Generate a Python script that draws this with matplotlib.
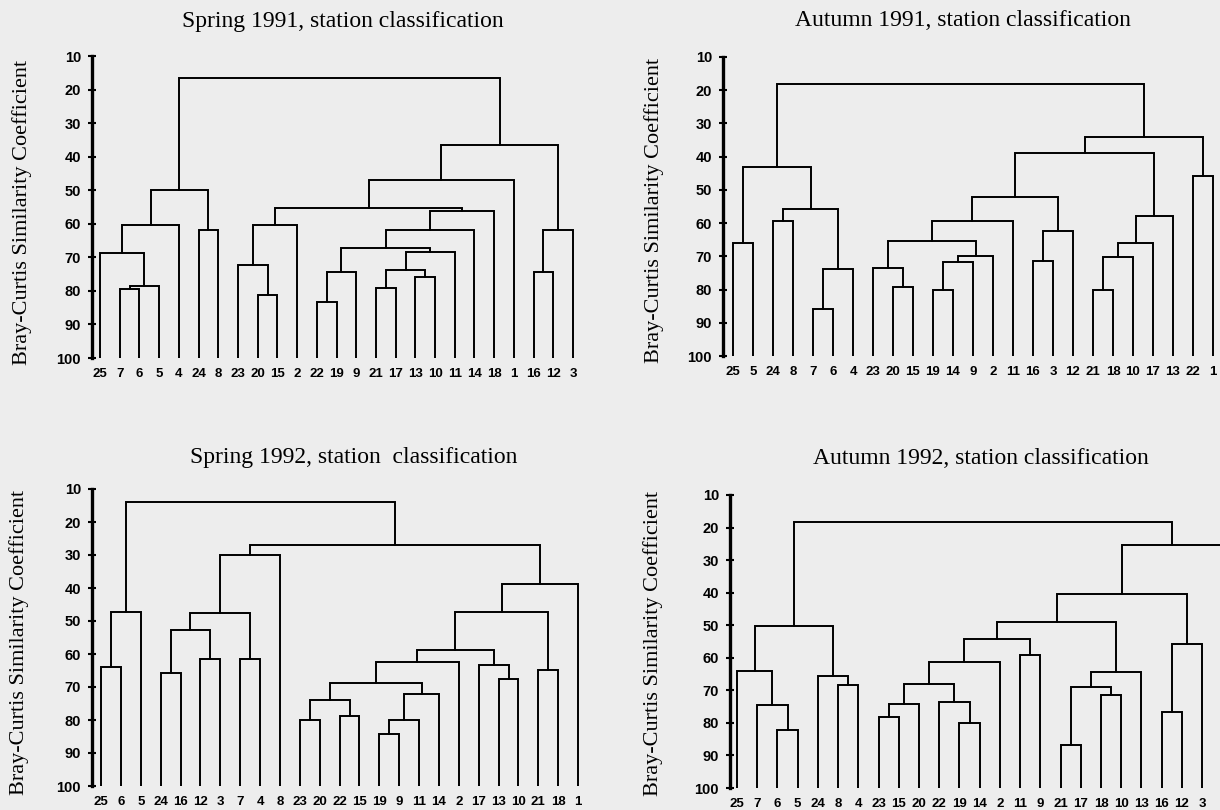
import matplotlib
matplotlib.use('Agg')
import matplotlib.pyplot as plt
from matplotlib import font_manager

W, H = 1220, 810

names = {f.name for f in font_manager.fontManager.ttflist}
narrow = 'Liberation Sans Narrow' if 'Liberation Sans Narrow' in names else 'Liberation Sans'
serif = 'Liberation Serif'

# leaf order (station numbers) and merges: (left, right, similarity)
# a merge is referred to later as 'm<index>'
leaves_sp91 = [25, 7, 6, 5, 4, 24, 8, 23, 20, 15, 2, 22, 19, 9, 21, 17, 13, 10, 11, 14, 18, 1, 16, 12, 3]
merges_sp91 = [
    (7, 6, 79.3), ('m0', 5, 78.6), (25, 'm1', 68.7), ('m2', 4, 60.3),
    (24, 8, 62.0), ('m3', 'm4', 49.8), (20, 15, 81.2), (23, 'm6', 72.2),
    ('m7', 2, 60.3), (22, 19, 83.4), ('m9', 9, 74.5), (21, 17, 79.1),
    (13, 10, 76.0), ('m11', 'm12', 73.7), ('m13', 11, 68.3), ('m10', 'm14', 67.2),
    ('m15', 14, 61.8), ('m16', 18, 56.3), ('m8', 'm17', 55.3), ('m18', 1, 46.9),
    (16, 12, 74.5), ('m20', 3, 61.8), ('m19', 'm21', 36.6), ('m5', 'm22', 16.7),
]

leaves_au91 = [25, 5, 24, 8, 7, 6, 4, 23, 20, 15, 19, 14, 9, 2, 11, 16, 3, 12, 21, 18, 10, 17, 13, 22, 1]
merges_au91 = [
    (25, 5, 66.0), (24, 8, 59.3), (7, 6, 86.0), ('m2', 4, 73.8),
    ('m1', 'm3', 55.8), ('m0', 'm4', 43.0), (20, 15, 79.2), (23, 'm6', 73.5),
    (19, 14, 80.0), ('m8', 9, 71.8), ('m9', 2, 70.0), ('m7', 'm10', 65.5),
    ('m11', 11, 59.5), (16, 3, 71.5), ('m13', 12, 62.5), ('m12', 'm14', 52.2),
    (21, 18, 80.0), ('m16', 10, 70.2), ('m17', 17, 66.0), ('m18', 13, 58.0),
    ('m15', 'm19', 39.0), (22, 1, 45.8), ('m20', 'm21', 34.0), ('m5', 'm22', 18.2),
]

leaves_sp92 = [25, 6, 5, 24, 16, 12, 3, 7, 4, 8, 23, 20, 22, 15, 19, 9, 11, 14, 2, 17, 13, 10, 21, 18, 1]
merges_sp92 = [
    (25, 6, 63.8), ('m0', 5, 47.2), (24, 16, 65.8), (12, 3, 61.5),
    ('m2', 'm3', 52.6), (7, 4, 61.5), ('m4', 'm5', 47.5), ('m6', 8, 30.1),
    (23, 20, 80.0), (22, 15, 78.7), ('m8', 'm9', 73.9), (19, 9, 84.1),
    ('m11', 11, 80.0), ('m12', 14, 72.2), ('m10', 'm13', 68.9), ('m14', 2, 62.5),
    (13, 10, 67.6), (17, 'm16', 63.3), ('m15', 'm17', 58.8), (21, 18, 64.8),
    ('m18', 'm19', 47.2), ('m20', 1, 38.7), ('m7', 'm21', 27.1), ('m1', 'm22', 14.0),
]

leaves_au92 = [25, 7, 6, 5, 24, 8, 4, 23, 15, 20, 22, 19, 14, 2, 11, 9, 21, 17, 18, 10, 13, 16, 12, 3, 1]
merges_au92 = [
    (6, 5, 82.2), (7, 'm0', 74.6), (25, 'm1', 64.0), (8, 4, 68.5),
    (24, 'm3', 65.5), ('m2', 'm4', 50.2), (23, 15, 78.2), ('m6', 20, 74.3),
    (19, 14, 79.9), (22, 'm8', 73.5), ('m7', 'm9', 68.0), ('m10', 2, 61.4),
    (11, 9, 59.1), ('m11', 'm12', 54.1), (21, 17, 86.7), (18, 10, 71.5),
    ('m14', 'm15', 69.1), ('m16', 13, 64.5), ('m13', 'm17', 49.0), (16, 12, 76.6),
    ('m19', 3, 55.8), ('m18', 'm20', 40.4), ('m21', 1, 25.5), ('m5', 'm22', 18.4),
]

titles = ['Spring 1991, station classification', 'Autumn 1991, station classification',
          'Spring 1992, station  classification', 'Autumn 1992, station classification']
ylabel = 'Bray-Curtis Similarity Coefficient'
yticks = [10, 20, 30, 40, 50, 60, 70, 80, 90, 100]

bg = '#ededed'
fig = plt.figure(figsize=(W / 100, H / 100), dpi=100, facecolor=bg)


def make_axes(spine_px, leaf0_px, step_px, top_px, bottom_px, right_px):
    ax = fig.add_axes([spine_px / W, 1 - bottom_px / H,
                       (right_px - spine_px) / W, (bottom_px - top_px) / H])
    ax.set_facecolor('none')
    ax.set_xlim((spine_px - leaf0_px) / step_px, (right_px - leaf0_px) / step_px)
    ax.set_ylim(100, 10)
    for s in ['top', 'right', 'bottom']:
        ax.spines[s].set_visible(False)
    ax.spines['left'].set_linewidth(2.4)
    ax.set_yticks(yticks)
    ax.tick_params(axis='y', direction='inout', length=6, width=1.5, pad=5, labelsize=10.5)
    for lab in ax.get_yticklabels():
        lab.set_fontfamily(narrow)
        lab.set_fontweight('bold')
    return ax


def draw_dendrogram(ax, leaves, merges):
    pos = {lab: i for i, lab in enumerate(leaves)}
    height = {lab: 100 for lab in leaves}
    for k, (a, b, h) in enumerate(merges):
        xa, xb = pos[a], pos[b]
        ax.plot([xa, xa, xb, xb], [height[a], h, h, height[b]],
                color='black', lw=1.4, solid_joinstyle='miter')
        pos['m%d' % k] = (xa + xb) / 2
        height['m%d' % k] = h
    # only label the leaves that fall inside the panel
    xmax = ax.get_xlim()[1]
    shown = [i for i in range(len(leaves)) if i <= xmax]
    ax.set_xticks(shown)
    ax.set_xticklabels([str(leaves[i]) for i in shown], fontfamily=narrow,
                       fontweight='bold', fontsize=9.5)
    ax.tick_params(axis='x', length=0, pad=7)


panels = [
    # spine, first leaf, step, top, bottom, right, title left x/y, ylabel x/y
    (92, 100, 19.71, 56, 358, 600, 182, 21, 22, 212),
    (723, 733, 20.0, 57, 356, 1220, 795, 21, 654, 210),
    (92, 101, 19.88, 489, 786, 600, 190, 457, 19, 642),
    (730, 737, 20.22, 495, 788, 1220, 813, 459, 653, 643),
]
data = [(leaves_sp91, merges_sp91), (leaves_au91, merges_au91),
        (leaves_sp92, merges_sp92), (leaves_au92, merges_au92)]

for (sp, l0, st, tp, bt, rt, tx, ty, lx, ly), (lv, mg), title in zip(panels, data, titles):
    ax = make_axes(sp, l0, st, tp, bt, rt)
    draw_dendrogram(ax, lv, mg)
    fig.text(tx / W, 1 - ty / H, title, ha='left', va='center',
             fontfamily=serif, fontsize=17)
    fig.text(lx / W, 1 - ly / H, ylabel, ha='center', va='center', rotation=90,
             fontfamily=serif, fontsize=16)

fig.savefig('out.png', dpi=100, facecolor=bg)
